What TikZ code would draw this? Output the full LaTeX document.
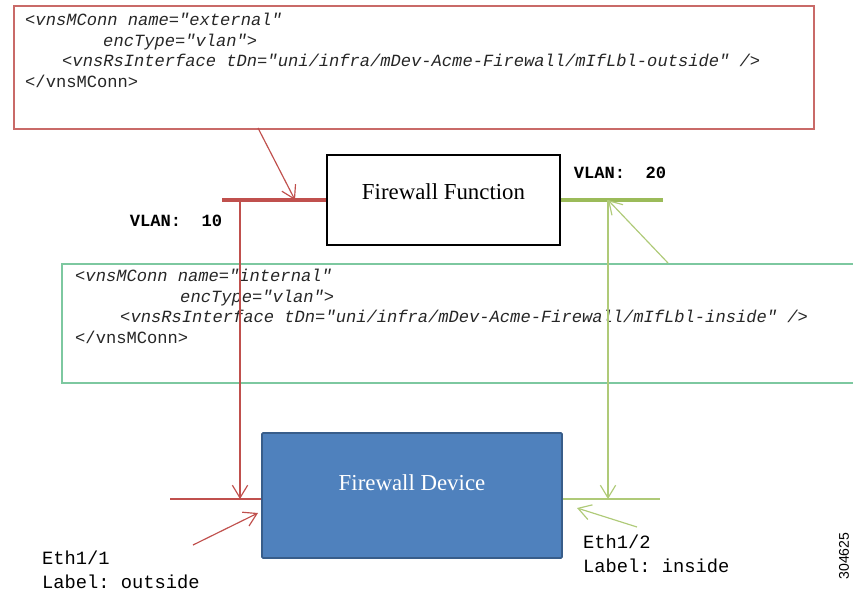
\documentclass[tikz,border=0pt]{standalone}
\usepackage{fontspec}
\setmainfont{Liberation Serif}
\setmonofont{Liberation Mono}
\setsansfont{Liberation Sans}
\usepackage{tikz}
\usetikzlibrary{arrows.meta,positioning}

\definecolor{fwred}{RGB}{192,80,77}
\definecolor{fwgreen}{RGB}{155,187,89}
\definecolor{fwlime}{RGB}{175,202,120}
\definecolor{fwmint}{RGB}{125,200,160}
\definecolor{fwblue}{RGB}{79,129,189}
\definecolor{fwbluedark}{RGB}{56,93,138}

\begin{document}
\begin{tikzpicture}[
    x=0.03cm, y=-0.03cm,
    xmlbox/.style={rectangle, draw, line width=1.5pt, anchor=north west, inner sep=0pt},
    xmltext/.style={anchor=north west, align=left, inner sep=0pt, text=black!85, font=\fontsize{14.6}{17.5}\selectfont\ttfamily},
    func/.style={rectangle, draw, line width=2.4pt, minimum width=6.99cm, minimum height=2.7cm, font=\fontsize{19.5}{22}\selectfont, text depth=0.5cm},
    device/.style={rectangle, draw=fwbluedark, fill=fwblue, line width=1.5pt, rounded corners=1pt, minimum width=9cm, minimum height=3.75cm, text=white, font=\fontsize{19.5}{22}\selectfont, text depth=0.75cm},
    vlan/.style={inner sep=0pt, font=\fontsize{14.6}{17}\selectfont\ttfamily\bfseries},
    port/.style={anchor=north west, align=left, inner sep=0pt, font=\fontsize{16}{20}\selectfont\ttfamily},
    arrow/.style={-{Straight Barb[length=3.8mm, width=4.6mm]}},
    trunk/.style={line width=3.4pt},
    wire/.style={line width=1pt}
]
\useasboundingbox (0,0) rectangle (853,592);

% External connector
\node[xmlbox, draw=fwred!85, minimum width=24cm, minimum height=3.69cm] (extbox) at (13,5) {};
\node[xmltext] (exttext) at (25,13) {\itshape <vnsMConn name="external"\\
\hspace*{2.34cm}\itshape encType="vlan">\\
\hspace*{1.11cm}\itshape <vnsRsInterface tDn="uni/infra/mDev-Acme-Firewall/mIfLbl-outside" />\\
</vnsMConn>};

% Internal connector
\node[xmlbox, draw=fwmint, minimum width=24.3cm, minimum height=3.57cm] (intbox) at (61,263) {};
\node[xmltext] (inttext) at (75,269) {\itshape <vnsMConn name="internal"\\
\hspace*{3.15cm}\itshape encType="vlan">\\
\hspace*{1.35cm}\itshape <vnsRsInterface tDn="uni/infra/mDev-Acme-Firewall/mIfLbl-inside" />\\
</vnsMConn>};

% Function and device
\node[func] (fwfunc) at (443.5,200) {Firewall Function};
\node[device] (fwdevice) at (412,495.5) {Firewall Device};

% VLAN labels
\node[vlan] (vlan10) at (176,221) {VLAN:~~10};
\node[vlan] (vlan20) at (620,173) {VLAN:~~20};

% Port labels
\node[port] (eth1) at (42,551) {Eth1/1\\Label: outside};
\node[port] (eth2) at (583,535) {Eth1/2\\Label: inside};

% Figure number
\node[rotate=90, inner sep=0pt, font=\fontsize{12}{14}\selectfont\sffamily] (figid) at (844,556) {304625};

% Connector points
\coordinate (vlanL) at (222,200);
\coordinate (vlanR) at (663,200);
\coordinate (extout) at (258,128);
\coordinate (vlanLin) at (295,200);
\coordinate (intout) at (668,263);
\coordinate (vlanRin) at (608,200);
\coordinate (dropL) at (240,200);
\coordinate (portL) at (240,499);
\coordinate (dropR) at (608,200);
\coordinate (portR) at (608,499);
\coordinate (stubL) at (170,499);
\coordinate (stubR) at (660,499);
\coordinate (eth1tail) at (193,545);
\coordinate (eth1tip) at (258,513);
\coordinate (eth2tail) at (637,527);
\coordinate (eth2tip) at (577,508);

% Red side
\draw[trunk, fwred] (vlanL) -- (fwfunc.west);
\draw[wire, fwred, arrow] (extout) -- (vlanLin);
\draw[wire, fwred, arrow] (dropL) -- (portL);
\draw[wire, fwred] (stubL) -- (fwdevice.west |- stubL);
\draw[wire, fwred, arrow] (eth1tail) -- (eth1tip);

% Green side
\draw[trunk, fwgreen] (fwfunc.east) -- (vlanR);
\draw[wire, fwlime, arrow] (intout) -- (vlanRin);
\draw[wire, fwlime, arrow] (dropR) -- (portR);
\draw[wire, fwlime] (fwdevice.east |- stubR) -- (stubR);
\draw[wire, fwlime, arrow] (eth2tail) -- (eth2tip);

\end{tikzpicture}
\end{document}
